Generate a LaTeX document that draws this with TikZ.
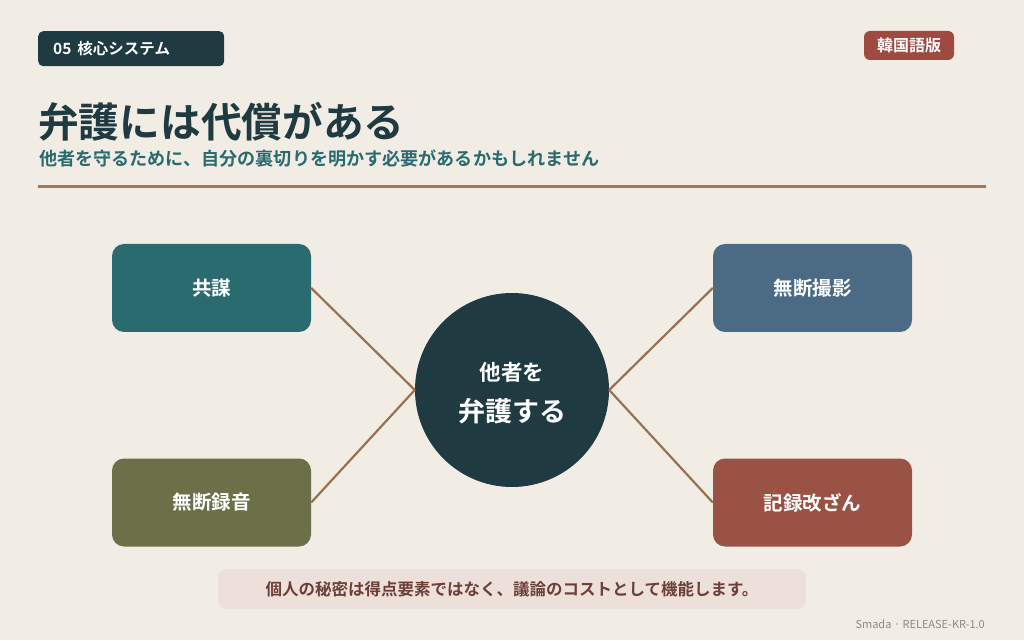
\documentclass[tikz,border=0pt]{standalone}
\usepackage{fontspec}
\setmainfont{Noto Sans CJK JP}
\newfontfamily\jpbold{Noto Sans CJK JP Bold}
\definecolor{bg}{HTML}{F2EDE4}
\definecolor{dark}{HTML}{1F3A40}
\definecolor{rust}{HTML}{9E4A40}
\definecolor{teal}{HTML}{2A6B70}
\definecolor{olive}{HTML}{6B7049}
\definecolor{slate}{HTML}{4B6B85}
\definecolor{brick}{HTML}{9A5244}
\definecolor{rule}{HTML}{A07A55}
\definecolor{link}{HTML}{9A7050}
\definecolor{note}{HTML}{EDE0DA}
\definecolor{notetext}{HTML}{6A4038}
\definecolor{foot}{HTML}{8A8A88}
\tikzset{
  px/.style={x=1pt,y=1pt},
  cat/.style={rounded corners=12pt, minimum width=199pt, minimum height=88pt, inner sep=0pt, text=white, font=\jpbold\fontsize{19.5}{22}\selectfont},
  linkline/.style={draw=link, line width=2.2pt},
}
\begin{document}
\begin{tikzpicture}[px]
\useasboundingbox (0,0) rectangle (1024,640);
\fill[bg] (0,0) rectangle (1024,640);
% header tag
\node[fill=dark, rounded corners=5pt, minimum width=186pt, minimum height=35pt, inner sep=0pt, anchor=north west] (tag) at (38,609) {};
\node[anchor=west, text=white, font=\jpbold\fontsize{15.5}{17}\selectfont, inner sep=0pt] (tagtext) at (53,591.5) {05\hspace{6pt}核心システム};
% version tag
\node[fill=rust, rounded corners=6pt, minimum width=90pt, minimum height=29pt, inner sep=0pt, text=white, font=\jpbold\fontsize{16}{18}\selectfont] (ver) at (909,594.5) {韓国語版};
% title
\node[anchor=base west, text=dark, font=\jpbold\fontsize{40.7}{44}\selectfont, inner sep=0pt] (title) at (38,502) {弁護には代償がある};
\node[anchor=base west, text=teal, font=\jpbold\fontsize{18.1}{20}\selectfont, inner sep=0pt] (subtitle) at (39,474) {他者を守るために、自分の裏切りを明かす必要があるかもしれません};
\draw[rule, line width=3pt] (38,453) -- (986,453);
% center circle
\node[circle, fill=dark, minimum size=194pt, inner sep=0pt] (hub) at (512,250) {};
\node[text=white, font=\jpbold\fontsize{21.5}{24}\selectfont, inner sep=0pt] (hub1) at (512,268) {他者を};
\node[text=white, font=\jpbold\fontsize{27}{30}\selectfont, inner sep=0pt] (hub2) at (512,229) {弁護する};
% boxes
\node[cat, fill=teal] (tl) at (211.5,352) {共謀};
\node[cat, fill=olive] (bl) at (211.5,137.5) {無断録音};
\node[cat, fill=slate] (tr) at (812.5,352) {無断撮影};
\node[cat, fill=brick] (br) at (812.5,137.5) {記録改ざん};
% links
\draw[linkline] (tl.east) -- (hub.west);
\draw[linkline] (bl.east) -- (hub.west);
\draw[linkline] (tr.west) -- (hub.east);
\draw[linkline] (br.west) -- (hub.east);
% note
\node[fill=note, rounded corners=9pt, minimum width=588pt, minimum height=40pt, inner sep=0pt, text=notetext, font=\jpbold\fontsize{16.5}{18}\selectfont] (note) at (512,51) {個人の秘密は得点要素ではなく、議論のコストとして機能します。};
% footer
\node[anchor=base east, text=foot, font=\fontsize{11}{13}\selectfont, inner sep=0pt] (footer) at (985,12) {Smada · RELEASE-KR-1.0};
\end{tikzpicture}
\end{document}
